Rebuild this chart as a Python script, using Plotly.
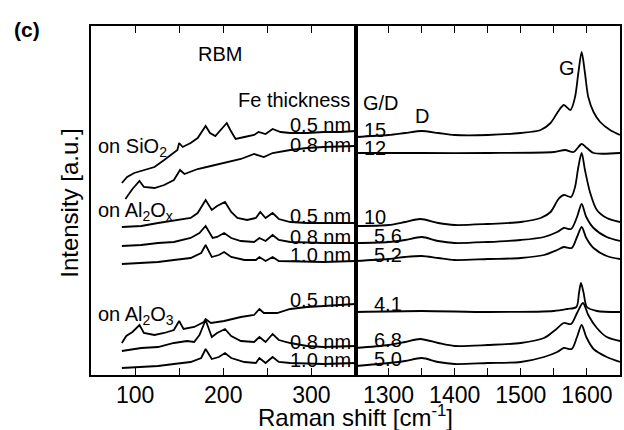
import plotly.graph_objects as go

# RBM region (left panel), Raman shift in cm-1 and intensity in a.u. (offset stacked)
rbm_x_sio2_05 = [85, 91, 99, 110, 122, 133, 142, 148, 150, 154, 163, 171, 180, 185, 191, 197, 204, 208, 214, 224, 235, 240, 248, 256, 265, 276, 295, 314, 333, 350]
rbm_i_sio2_05 = [192, 198, 202, 205, 208, 215, 221, 225, 232, 228, 232, 237, 249, 242, 239, 245, 252, 245, 236, 238, 240, 243, 241, 246, 243, 242, 242, 243, 243, 244]
rbm_x_sio2_08 = [89, 97, 105, 110, 122, 133, 144, 151, 156, 171, 186, 201, 220, 235, 246, 256, 276, 295, 314, 350]
rbm_i_sio2_08 = [176, 186, 194, 188, 187, 190, 195, 205, 201, 206, 209, 212, 216, 221, 218, 222, 225, 227, 228, 229]

rbm_x_alox_05 = [85, 107, 126, 148, 163, 171, 180, 187, 193, 202, 209, 216, 227, 237, 242, 248, 256, 263, 276, 295, 314, 350]
rbm_i_alox_05 = [148, 149, 152, 155, 157, 162, 175, 165, 169, 173, 163, 157, 155, 157, 163, 157, 162, 156, 153, 152, 152, 152]
rbm_x_alox_08 = [85, 107, 126, 144, 163, 173, 180, 188, 193, 201, 209, 220, 235, 241, 248, 256, 263, 276, 314, 350]
rbm_i_alox_08 = [129, 130, 132, 133, 137, 142, 149, 137, 138, 142, 137, 134, 133, 137, 134, 140, 135, 133, 132, 132]
rbm_x_alox_10 = [85, 107, 126, 144, 163, 175, 180, 187, 195, 201, 209, 224, 237, 241, 248, 256, 263, 314, 350]
rbm_i_alox_10 = [111, 112, 113, 115, 117, 122, 130, 118, 120, 123, 118, 115, 115, 118, 114, 118, 114, 113, 114]

rbm_x_al2o3_05 = [85, 90, 97, 105, 110, 122, 133, 144, 150, 155, 167, 178, 180, 186, 201, 220, 235, 241, 246, 261, 276, 295, 314, 350]
rbm_i_al2o3_05 = [32, 39, 43, 50, 42, 40, 42, 45, 54, 46, 48, 53, 56, 52, 54, 58, 60, 66, 62, 62, 66, 68, 69, 71]
rbm_x_al2o3_08 = [85, 107, 126, 144, 159, 167, 173, 180, 187, 193, 202, 209, 220, 235, 241, 248, 256, 263, 276, 295, 314, 350]
rbm_i_al2o3_08 = [24, 27, 28, 32, 34, 33, 40, 55, 38, 42, 46, 39, 34, 33, 38, 33, 41, 35, 32, 29, 28, 29]
rbm_x_al2o3_10 = [85, 107, 126, 144, 163, 175, 180, 187, 195, 202, 209, 224, 237, 241, 248, 256, 263, 276, 314, 350]
rbm_i_al2o3_10 = [7, 8, 9, 11, 13, 17, 26, 16, 18, 22, 17, 13, 12, 17, 12, 18, 13, 12, 11, 12]

# D / G region (right panel)
dg_x_sio2_05 = [1250, 1300, 1325, 1350, 1375, 1400, 1450, 1500, 1530, 1545, 1555, 1565, 1575, 1582, 1587, 1592, 1597, 1602, 1610, 1620, 1635, 1650]
dg_i_sio2_05 = [238, 240, 242, 244, 242, 240, 240, 242, 245, 252, 262, 270, 265, 278, 302, 323, 302, 278, 263, 253, 245, 240]
dg_x_sio2_08 = [1250, 1350, 1450, 1550, 1567, 1580, 1592, 1600, 1610, 1650]
dg_i_sio2_08 = [222, 222, 222, 223, 225, 223, 231, 227, 222, 222]

dg_x_alox_05 = [1250, 1300, 1325, 1348, 1375, 1400, 1450, 1500, 1530, 1545, 1557, 1565, 1576, 1582, 1587, 1592, 1597, 1605, 1615, 1630, 1650]
dg_i_alox_05 = [149, 150, 153, 156, 152, 150, 151, 153, 157, 163, 176, 180, 178, 188, 208, 222, 205, 182, 165, 157, 153]
dg_x_alox_08 = [1250, 1300, 1325, 1350, 1375, 1400, 1450, 1500, 1535, 1555, 1565, 1576, 1585, 1592, 1599, 1610, 1630, 1650]
dg_i_alox_08 = [132, 133, 135, 138, 134, 132, 133, 135, 138, 143, 147, 146, 158, 171, 158, 147, 138, 134]
dg_x_alox_10 = [1250, 1300, 1325, 1350, 1375, 1400, 1450, 1500, 1535, 1555, 1565, 1577, 1585, 1592, 1599, 1610, 1630, 1650]
dg_i_alox_10 = [114, 116, 118, 119, 117, 115, 116, 117, 120, 125, 128, 127, 138, 148, 137, 127, 119, 116]

dg_x_al2o3_05 = [1250, 1350, 1450, 1550, 1570, 1584, 1588, 1591, 1595, 1600, 1615, 1650]
dg_i_al2o3_05 = [63, 64, 63, 64, 66, 68, 82, 92, 82, 68, 64, 63]
dg_x_al2o3_08 = [1250, 1300, 1325, 1348, 1375, 1400, 1450, 1500, 1535, 1552, 1565, 1576, 1585, 1594, 1602, 1615, 1630, 1650]
dg_i_al2o3_08 = [27, 30, 33, 36, 32, 29, 30, 32, 37, 45, 52, 51, 62, 72, 60, 47, 38, 34]
dg_x_al2o3_10 = [1250, 1300, 1325, 1350, 1375, 1400, 1450, 1500, 1535, 1555, 1565, 1577, 1585, 1592, 1599, 1610, 1630, 1650]
dg_i_al2o3_10 = [9, 12, 14, 17, 13, 11, 12, 13, 18, 23, 27, 26, 38, 50, 38, 26, 18, 13]

thickness_labels = ['0.5 nm', '0.8 nm', '0.5 nm', '0.8 nm', '1.0 nm', '0.5 nm', '0.8 nm', '1.0 nm']
thickness_y = [250, 230, 159, 138, 120, 75, 33, 15]
gd_labels = ['15', '12', '10', '5.6', '5.2', '4.1', '6.8', '5.0']
gd_x = [1260, 1260, 1260, 1275, 1275, 1275, 1275, 1275]
gd_y = [245, 227, 158, 139, 120, 71, 35, 16]

FONT = 'Liberation Sans, Arial, sans-serif'

fig = go.Figure()

rbm = [(rbm_x_sio2_05, rbm_i_sio2_05), (rbm_x_sio2_08, rbm_i_sio2_08),
       (rbm_x_alox_05, rbm_i_alox_05), (rbm_x_alox_08, rbm_i_alox_08), (rbm_x_alox_10, rbm_i_alox_10),
       (rbm_x_al2o3_05, rbm_i_al2o3_05), (rbm_x_al2o3_08, rbm_i_al2o3_08), (rbm_x_al2o3_10, rbm_i_al2o3_10)]
for xs, ys in rbm:
    fig.add_trace(go.Scatter(x=xs, y=ys, mode='lines', line=dict(color='black', width=1.8),
                             xaxis='x', yaxis='y', showlegend=False))

dg = [(dg_x_sio2_05, dg_i_sio2_05), (dg_x_sio2_08, dg_i_sio2_08),
      (dg_x_alox_05, dg_i_alox_05), (dg_x_alox_08, dg_i_alox_08), (dg_x_alox_10, dg_i_alox_10),
      (dg_x_al2o3_05, dg_i_al2o3_05), (dg_x_al2o3_08, dg_i_al2o3_08), (dg_x_al2o3_10, dg_i_al2o3_10)]
for xs, ys in dg:
    fig.add_trace(go.Scatter(x=xs, y=ys, mode='lines', line=dict(color='black', width=1.8, shape='spline', smoothing=0.8),
                             xaxis='x2', yaxis='y2', showlegend=False))

xax = dict(showline=True, linewidth=2, linecolor='black', mirror='ticks', ticks='inside',
           ticklen=7, tickwidth=1.3, tickcolor='black', showgrid=False, zeroline=False,
           tickfont=dict(size=23, color='black', family=FONT), dtick=100, ticklabelstandoff=-2,
           minor=dict(ticks='inside', ticklen=7, tickwidth=1.3, tickcolor='black', dtick=50, showgrid=False))
yax = dict(showline=True, linewidth=2, linecolor='black', mirror=True, ticks='',
           showticklabels=False, showgrid=False, zeroline=False, range=[0, 349])

fig.update_layout(
    width=624, height=430,
    margin=dict(l=91, r=2, t=26, b=55),
    plot_bgcolor='white', paper_bgcolor='white',
    font=dict(family=FONT, color='black'),
    xaxis=dict(xax, domain=[0, 0.5], range=[50, 350], tick0=0),
    xaxis2=dict(xax, domain=[0.5, 1], range=[1250, 1650], anchor='y2', tick0=1300),
    yaxis=dict(yax, anchor='x'),
    yaxis2=dict(yax, anchor='x2'),
)

ann = []
for t, y in zip(thickness_labels, thickness_y):
    ann.append(dict(x=347.5, y=y, xref='x', yref='y', text=t, xanchor='right', yanchor='middle',
                    showarrow=False, font=dict(size=20)))
for t, x, y in zip(gd_labels, gd_x, gd_y):
    ann.append(dict(x=x, y=y, xref='x2', yref='y2', text=t, xanchor='left', yanchor='middle',
                    showarrow=False, font=dict(size=20)))
ann += [
    dict(x=56, y=228, xref='x', yref='y', text='on SiO<sub>2</sub>', xanchor='left', showarrow=False, font=dict(size=20)),
    dict(x=56, y=164, xref='x', yref='y', text='on Al<sub>2</sub>O<sub>x</sub>', xanchor='left', showarrow=False, font=dict(size=20)),
    dict(x=56, y=60, xref='x', yref='y', text='on Al<sub>2</sub>O<sub>3</sub>', xanchor='left', showarrow=False, font=dict(size=20)),
    dict(x=196, y=321, xref='x', yref='y', text='RBM', showarrow=False, font=dict(size=20)),
    dict(x=345.5, y=275, xref='x', yref='y', text='Fe thickness', xanchor='right', showarrow=False, font=dict(size=20)),
    dict(x=1258, y=272, xref='x2', yref='y2', text='G/D', xanchor='left', showarrow=False, font=dict(size=20)),
    dict(x=1350, y=259, xref='x2', yref='y2', text='D', showarrow=False, font=dict(size=20)),
    dict(x=1570, y=307, xref='x2', yref='y2', text='G', showarrow=False, font=dict(size=20)),
    dict(x=-0.149, y=0.99, xref='paper', yref='paper', text='<b>(c)</b>', xanchor='left', yanchor='middle',
         showarrow=False, font=dict(size=21)),
    dict(x=0.5, y=-0.1175, xref='paper', yref='paper', text='Raman shift [cm<sup>-1</sup>]', xanchor='center',
         yanchor='middle', showarrow=False, font=dict(size=24)),
    dict(x=-0.04, y=0.493, xref='paper', yref='paper', text='Intensity [a.u.]', textangle=-90, xanchor='center',
         yanchor='middle', showarrow=False, font=dict(size=24)),
]
fig.update_layout(annotations=ann)

fig.write_html("out.html", config={'displayModeBar': False},
               post_script="document.body.style.margin='0';")
